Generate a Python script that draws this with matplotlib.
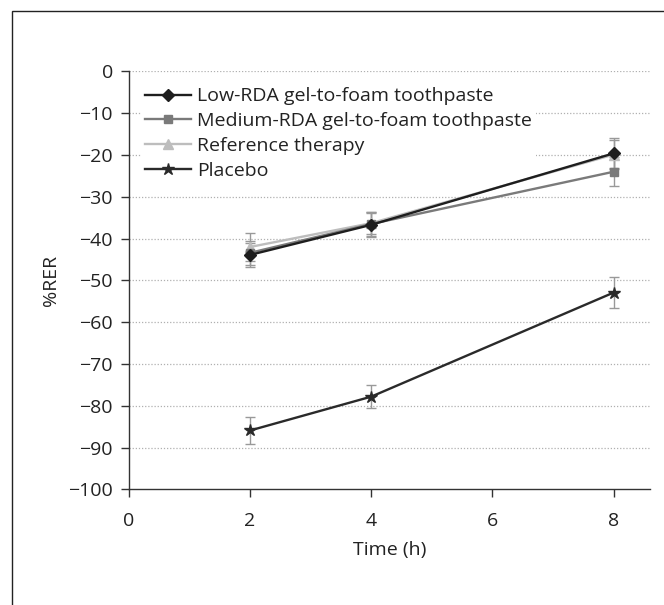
import matplotlib.pyplot as plt
from matplotlib.patches import Rectangle

plt.rcParams['font.family'] = ['Open Sans', 'DejaVu Sans']

time = [2, 4, 8]
low_rda = [-43.9, -36.7, -19.6]
low_err = [2.9, 2.8, 3.6]
medium_rda = [-43.4, -36.5, -24.0]
medium_err = [2.8, 2.9, 3.5]
reference = [-42.0, -36.3, -19.9]
reference_err = [3.4, 2.6, 3.5]
placebo = [-85.9, -77.8, -52.9]
placebo_err = [3.2, 2.8, 3.7]

labels = ['Low-RDA gel-to-foam toothpaste', 'Medium-RDA gel-to-foam toothpaste',
          'Reference therapy', 'Placebo']

fig = plt.figure(figsize=(6.64, 6.05), dpi=100)
ax = fig.add_axes([0.194, 0.191, 0.785, 0.691])

# outer frame
fig.patches.append(Rectangle((0.018, -0.05), 1.2, 1.032, transform=fig.transFigure,
                             fill=False, edgecolor='#222222', linewidth=1.0))

# values, errors, colour, marker, size, zorder
series = [
    (low_rda, low_err, '#1e1e1e', 'D', 6, 6),
    (medium_rda, medium_err, '#7a7a7a', 's', 6, 5),
    (reference, reference_err, '#bdbdbd', '^', 7, 4),
    (placebo, placebo_err, '#2a2a2a', '*', 9, 4),
]

for (vals, err, col, mk, ms, z), lab in zip(series, labels):
    ax.errorbar(time, vals, yerr=err, fmt='none', ecolor='#999999', elinewidth=1,
                capsize=3.5, capthick=1, zorder=3)
for (vals, err, col, mk, ms, z), lab in zip(series, labels):
    ax.plot(time, vals, color=col, marker=mk, markersize=ms, linewidth=1.7,
            label=lab, zorder=z)

ax.set_xlim(0, 8.6)
ax.set_ylim(-100, 0)
ax.set_xticks([0, 2, 4, 6, 8])
ax.set_yticks(range(-100, 1, 10))
ax.set_yticklabels([str(v).replace('-', '\u2212') for v in range(-100, 1, 10)])

for v in range(-90, 1, 10):
    ax.axhline(v, color='#b0b0b0', linestyle=(0, (1, 1.5)), linewidth=0.9, zorder=1)

for s in ['top', 'right']:
    ax.spines[s].set_visible(False)
for s in ['left', 'bottom']:
    ax.spines[s].set_color('#333333')
    ax.spines[s].set_linewidth(1.0)

ax.tick_params(axis='both', labelsize=14, colors='#333333', labelcolor='#222222')
ax.tick_params(axis='y', length=5.5, width=1, pad=6)
ax.tick_params(axis='x', length=6, width=1, pad=10)

ax.set_xlabel('Time (h)', fontsize=14, color='#222222', labelpad=8)
ax.set_ylabel('%RER', fontsize=14, color='#222222', labelpad=6)

leg = ax.legend(loc='upper left', bbox_to_anchor=(0.012, 0.985), fontsize=14,
                frameon=True, framealpha=1, facecolor='white', edgecolor='none',
                handlelength=2.4, handletextpad=0.3, labelspacing=0.35,
                borderpad=0.2, borderaxespad=0.3)
leg.set_zorder(2)
for t in leg.get_texts():
    t.set_color('#222222')

fig.savefig('out.png', dpi=100, facecolor='white')
